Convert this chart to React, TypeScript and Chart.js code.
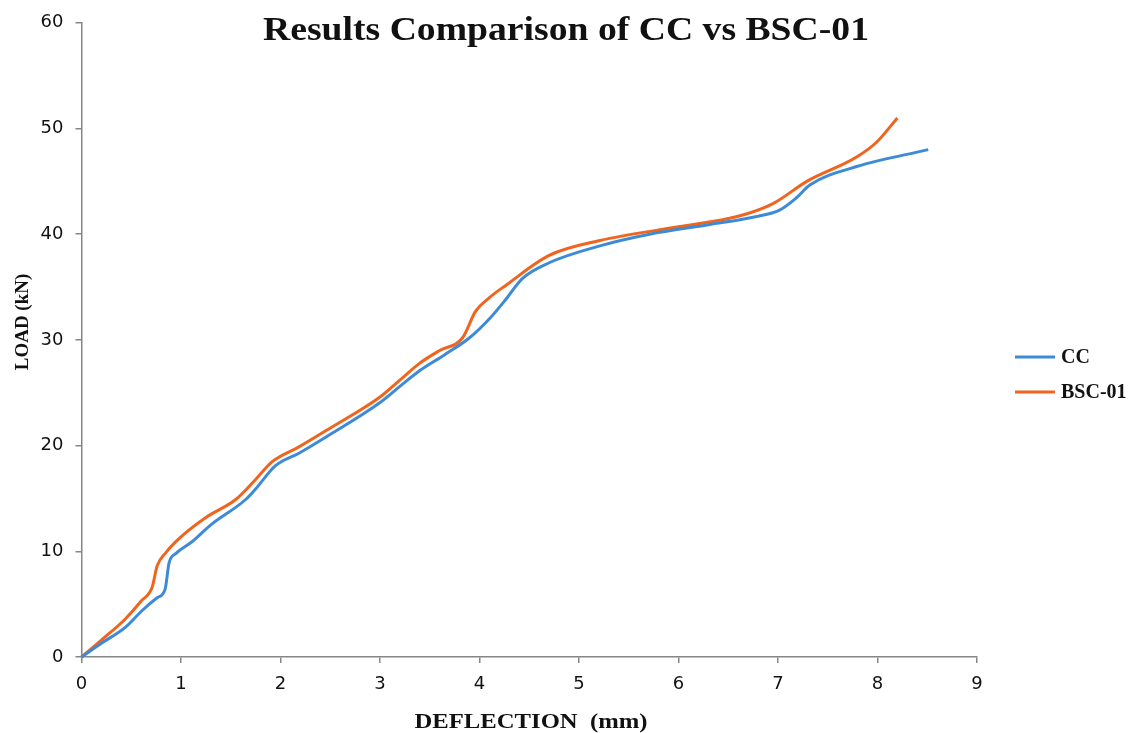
import { useEffect, useRef } from "react";
import { Chart, registerables } from "chart.js";

Chart.register(...registerables);

// Load–deflection readings for the two specimens
const ccDeflection = [0, 0.2, 0.44, 0.61, 0.76, 0.84, 0.88, 0.95, 1.11, 1.3, 1.65, 1.75, 1.95, 2.19, 2.49, 2.99, 3.2, 3.4, 3.65, 3.9, 4.1, 4.27, 4.43, 4.7, 5.21, 5.71, 6.3, 6.8, 7.02, 7.18, 7.32, 7.79, 8.51];
const ccLoad = [0, 1.3, 2.8, 4.4, 5.6, 6.4, 8.9, 9.8, 10.9, 12.5, 14.9, 15.9, 18.1, 19.3, 21.0, 24.0, 25.6, 27.1, 28.6, 30.2, 32.0, 33.9, 35.8, 37.3, 38.9, 40.0, 40.9, 41.7, 42.3, 43.4, 44.65, 46.4, 48.0];

const bscDeflection = [0, 0.2, 0.44, 0.6, 0.71, 0.76, 0.85, 0.98, 1.25, 1.55, 1.75, 1.92, 2.19, 2.49, 3.0, 3.2, 3.4, 3.6, 3.83, 3.96, 4.1, 4.27, 4.7, 5.21, 6.0, 6.6, 6.95, 7.29, 7.79, 7.99, 8.2];
const bscLoad = [0, 1.6, 3.6, 5.3, 6.6, 8.6, 9.9, 11.2, 13.2, 14.9, 16.8, 18.5, 19.9, 21.6, 24.6, 26.2, 27.8, 29.0, 30.2, 32.7, 34.0, 35.2, 38.0, 39.4, 40.7, 41.7, 42.9, 45.0, 47.3, 48.7, 51.0];

const seriesNames = ["CC", "BSC-01"];
const seriesColors = ["#3d8bd6", "#f0641e"];

const xMin = 0;
const xMax = 9;
const xStep = 1;
const yMin = 0;
const yMax = 60;
const yStep = 10;

const chartTitle = "Results Comparison of CC vs BSC-01";
const xAxisTitle = "DEFLECTION  (mm)";
const yAxisTitle = "LOAD (kN)";

const serif = "'Liberation Serif', 'Times New Roman', serif";
const tickFont = { family: "'DejaVu Sans', sans-serif", size: 18 };

// Draws text horizontally stretched to a given width, centred at cx
function drawWideText(ctx: CanvasRenderingContext2D, text: string, cx: number, baseline: number, width: number) {
  const w = ctx.measureText(text).width;
  ctx.save();
  ctx.translate(cx, baseline);
  ctx.scale(width / w, 1);
  ctx.textAlign = "center";
  ctx.textBaseline = "alphabetic";
  ctx.fillText(text, 0, 0);
  ctx.restore();
}

const labelsPlugin = {
  id: "chartLabels",
  afterDraw(chart: any) {
    const ctx: CanvasRenderingContext2D = chart.ctx;
    ctx.save();
    ctx.fillStyle = "#111111";

    // title
    ctx.font = `bold 33px ${serif}`;
    drawWideText(ctx, chartTitle, 566, 40, 606);

    // x axis title
    ctx.font = `bold 20px ${serif}`;
    drawWideText(ctx, xAxisTitle, 531, 728, 233);

    // y axis title
    ctx.save();
    ctx.translate(27.5, 322);
    ctx.rotate(-Math.PI / 2);
    ctx.font = `bold 19px ${serif}`;
    ctx.textAlign = "center";
    ctx.textBaseline = "alphabetic";
    ctx.fillText(yAxisTitle, 0, 0);
    ctx.restore();

    // legend
    const rows = [357, 392];
    ctx.font = `bold 20px ${serif}`;
    ctx.textAlign = "left";
    ctx.textBaseline = "middle";
    seriesNames.forEach((name, i) => {
      const y = rows[i];
      ctx.strokeStyle = seriesColors[i];
      ctx.lineWidth = 3;
      ctx.beginPath();
      ctx.moveTo(1015, y);
      ctx.lineTo(1055, y);
      ctx.stroke();
      ctx.fillStyle = "#111111";
      ctx.fillText(name, 1061, y + 1);
    });
    ctx.restore();
  },
};

export default function App() {
  const canvasRef = useRef<HTMLCanvasElement | null>(null);

  useEffect(() => {
    if (!canvasRef.current) return;
    const toPoints = (xs: number[], ys: number[]) => xs.map((x, i) => ({ x, y: ys[i] }));

    const chart = new Chart(canvasRef.current, {
      type: "line",
      data: {
        datasets: [
          {
            label: seriesNames[0],
            data: toPoints(ccDeflection, ccLoad),
            borderColor: seriesColors[0],
            backgroundColor: seriesColors[0],
            borderWidth: 3,
            pointRadius: 0,
            cubicInterpolationMode: "monotone",
            clip: false,
          },
          {
            label: seriesNames[1],
            data: toPoints(bscDeflection, bscLoad),
            borderColor: seriesColors[1],
            backgroundColor: seriesColors[1],
            borderWidth: 3,
            pointRadius: 0,
            cubicInterpolationMode: "monotone",
            clip: false,
          },
        ],
      },
      options: {
        animation: false,
        responsive: true,
        maintainAspectRatio: false,
        devicePixelRatio: 1,
        layout: { padding: { top: 14, right: 161, left: 0, bottom: 0 } },
        plugins: {
          legend: { display: false },
          title: { display: false },
          tooltip: { enabled: false },
        },
        scales: {
          x: {
            type: "linear",
            min: xMin,
            max: xMax,
            afterFit: (s: any) => {
              s.height = 76;
            },
            ticks: {
              stepSize: xStep,
              padding: 11,
              color: "#111111",
              font: tickFont,
              maxRotation: 0,
            },
            grid: {
              display: true,
              drawOnChartArea: false,
              drawTicks: true,
              tickLength: 6,
              color: "#868686",
              lineWidth: 1.5,
            },
            border: { display: true, color: "#868686", width: 1.5 },
          },
          y: {
            type: "linear",
            min: yMin,
            max: yMax,
            afterFit: (s: any) => {
              s.width = 81.5;
            },
            ticks: {
              stepSize: yStep,
              padding: 12,
              color: "#111111",
              font: tickFont,
            },
            grid: {
              display: true,
              drawOnChartArea: false,
              drawTicks: true,
              tickLength: 6,
              color: "#868686",
              lineWidth: 1.5,
            },
            border: { display: true, color: "#868686", width: 1.5 },
          },
        },
      },
      plugins: [labelsPlugin],
    } as any);

    return () => chart.destroy();
  }, []);

  return (
    <div style={{ position: "fixed", left: 0, top: 0, width: 1138, height: 733, background: "#ffffff" }}>
      <canvas ref={canvasRef} />
    </div>
  );
}
